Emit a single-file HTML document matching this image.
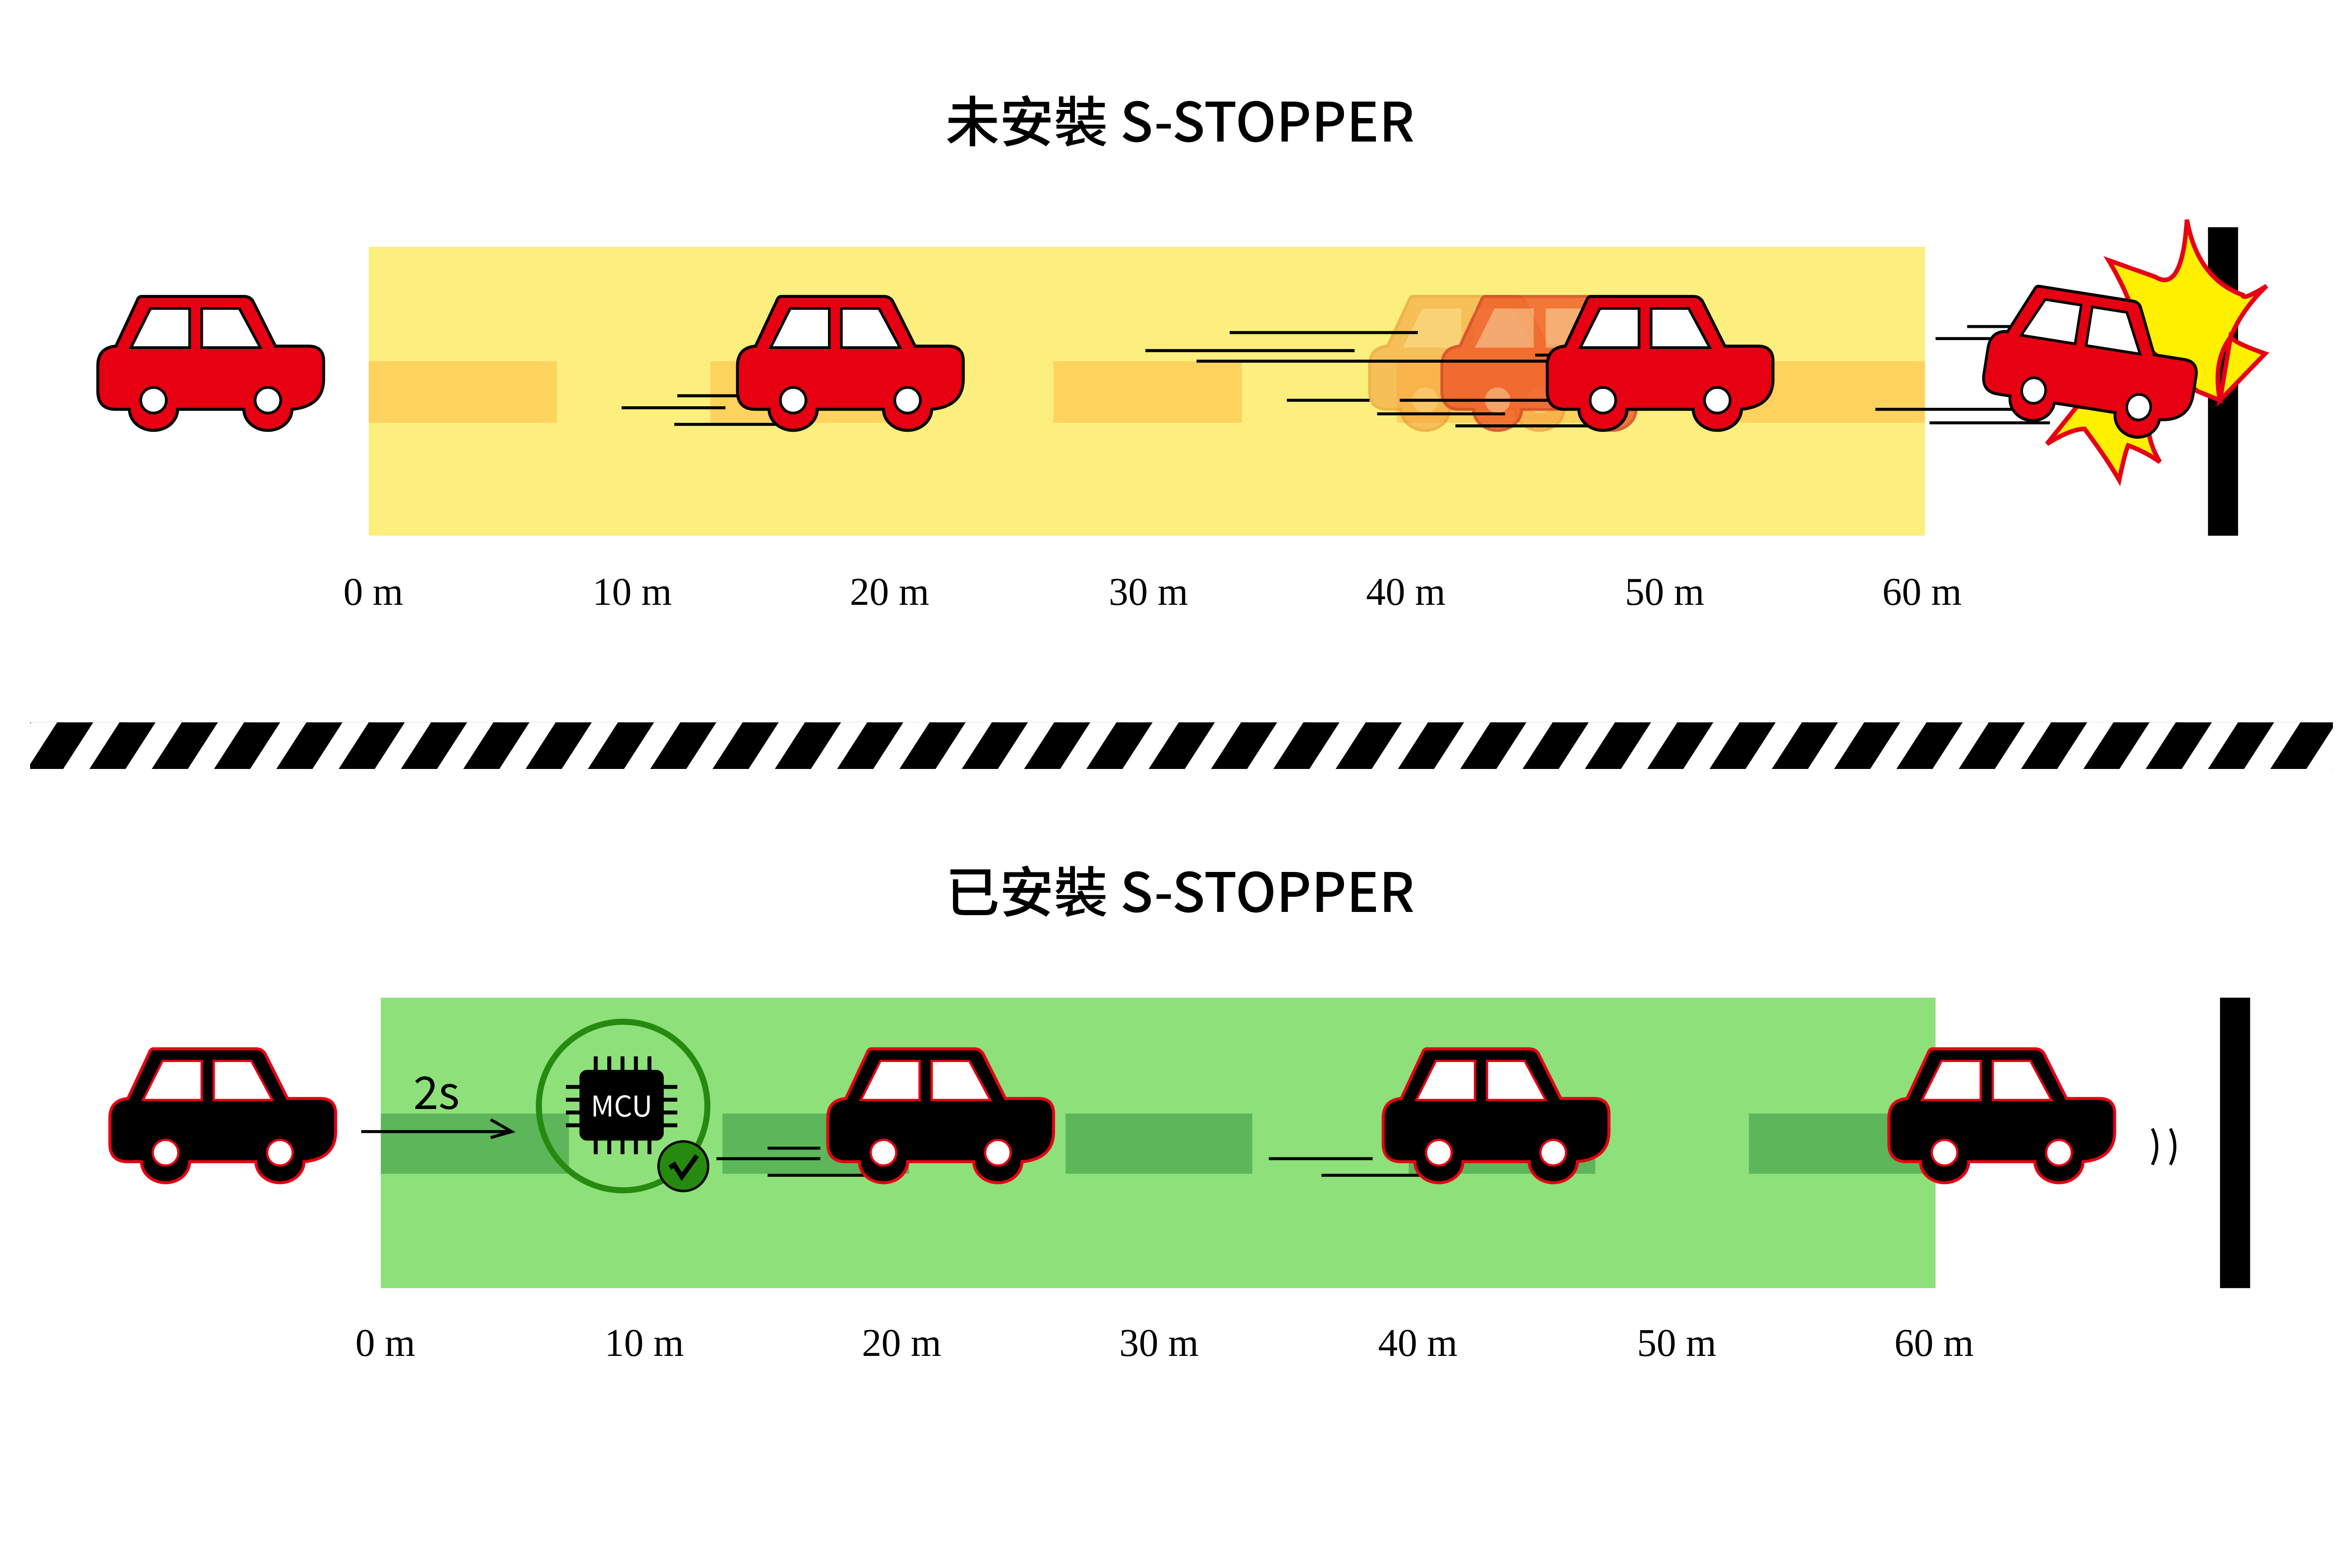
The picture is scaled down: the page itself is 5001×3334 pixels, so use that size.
<!DOCTYPE html>
<html><head><meta charset="utf-8"><style>
html,body{margin:0;padding:0;background:#fff;}
svg{display:block;}
</style></head><body>
<svg width="5001" height="3334" viewBox="0 0 1563 1042" xmlns="http://www.w3.org/2000/svg">
<defs>
<path id="car" d="M29,0 L97,0 Q101,0 103,3 L118,33 L140,33 Q150,33 150,43 L150,55 Q150,73 129,75 A16,14 0 0 1 97,75 L53,75 A16,14 0 0 1 21,75 L12,75 Q0,75 0,63 L0,46 Q0,34 12,33 L26,3 Q27,0 29,0 Z"/>
<g id="holes">
<polygon points="22,34 35,8 61,8 61,34"/>
<polygon points="69,8 94,8 108,34 69,34"/>
<ellipse cx="37" cy="69" rx="8.5" ry="8.5"/>
<ellipse cx="113" cy="69" rx="8.5" ry="8.5"/>
</g>
<g id="redcar">
<use href="#car" fill="#e60012" stroke="#000" stroke-width="2"/>
<use href="#holes" fill="#fff" stroke="#000" stroke-width="1.8"/>
</g>
<g id="blackcar">
<use href="#car" fill="#000" stroke="#e60012" stroke-width="2"/>
<use href="#holes" fill="#fff" stroke="#e60012" stroke-width="1.5"/>
</g>
<pattern id="haz" patternUnits="userSpaceOnUse" x="18" y="480" width="41.4" height="31">
<polygon points="20,0 44,0 24,31 0,31" fill="#000"/>
<polygon points="-21.4,0 2.6,0 -17.4,31 -41.4,31" fill="#000"/>
</pattern>
</defs>

<text x="784" y="94" text-anchor="middle" font-family="'Noto Sans CJK TC','Liberation Sans',sans-serif" font-weight="500" font-size="36" fill="#000">未安裝 S-STOPPER</text>

<rect x="245" y="164" width="1034" height="192" fill="#fcef7e"/>
<g fill="#fdd35e">
<rect x="245" y="240" width="125" height="41"/>
<rect x="472" y="240" width="125" height="41"/>
<rect x="700" y="240" width="125" height="41"/>
<rect x="928" y="240" width="125" height="41"/>
<rect x="1156" y="240" width="123" height="41"/>
</g>
<g font-family="'Liberation Serif',serif" font-size="26" fill="#000" text-anchor="middle">
<text x="248" y="402">0 m</text><text x="420" y="402">10 m</text><text x="591" y="402">20 m</text>
<text x="763" y="402">30 m</text><text x="934" y="402">40 m</text><text x="1106" y="402">50 m</text><text x="1277" y="402">60 m</text>
</g>
<rect x="1467" y="151" width="20" height="205" fill="#000"/>

<use href="#redcar" x="65" y="197"/>
<g stroke="#000" stroke-width="2">
<line x1="450" y1="263" x2="490" y2="263"/><line x1="413" y1="271" x2="482" y2="271"/><line x1="448" y1="282" x2="520" y2="282"/>
</g>
<use href="#redcar" x="490" y="197"/>
<g opacity="0.6"><use href="#car" x="910" y="197" fill="#f5a040" stroke="#e8902a" stroke-width="2"/><use href="#holes" x="910" y="197" fill="#f8c070"/></g>
<g opacity="0.8"><use href="#car" x="958" y="197" fill="#f05a28" stroke="#d04020" stroke-width="2"/><use href="#holes" x="958" y="197" fill="#f4a070"/></g>
<g stroke="#000" stroke-width="2">
<line x1="817" y1="221" x2="942" y2="221"/><line x1="761" y1="233" x2="900" y2="233"/><line x1="795" y1="240" x2="1030" y2="240"/>
<line x1="1020" y1="236" x2="1077" y2="236"/><line x1="855" y1="266" x2="910" y2="266"/><line x1="930" y1="266" x2="1070" y2="266"/>
<line x1="915" y1="275" x2="1000" y2="275"/><line x1="967" y1="283" x2="1060" y2="283"/>
</g>
<use href="#redcar" x="1028" y="197"/>

<g stroke="#000" stroke-width="2">
<line x1="1307" y1="217" x2="1345" y2="217"/><line x1="1286" y1="225" x2="1326" y2="225"/>
<line x1="1246" y1="272" x2="1342" y2="272"/><line x1="1282" y1="281" x2="1362" y2="281"/>
</g>
<path d="M1453,146 Q1450,195 1432,184 Q1415,178 1401,173 Q1420,205 1420,225 L1460,260 L1475,266 Q1470,240 1482,224 Q1490,205 1506,190 Q1490,200 1490,196 Q1460,185 1453,146 Z" fill="#fff000" stroke="#e60012" stroke-width="3"/>
<path d="M1505,235 Q1485,228 1482,224 L1475,266 Z" fill="#fff000" stroke="#e60012" stroke-width="3"/>
<path d="M1360,295 Q1376,285 1385,285 Q1400,305 1408,319 Q1412,300 1414,296 Q1425,300 1435,307 Q1425,290 1428,275 L1380,270 Z" fill="#fff000" stroke="#e60012" stroke-width="3"/>
<g transform="translate(1328,186) rotate(9) scale(0.93,1)"><use href="#redcar"/></g>

<rect x="20" y="480" width="1530" height="31" fill="url(#haz)"/>

<text x="784" y="606" text-anchor="middle" font-family="'Noto Sans CJK TC','Liberation Sans',sans-serif" font-weight="500" font-size="36" fill="#000">已安裝 S-STOPPER</text>

<rect x="253" y="663" width="1033" height="193" fill="#8ee07a"/>
<g fill="#5db65a">
<rect x="253" y="740" width="125" height="40"/>
<rect x="480" y="740" width="124" height="40"/>
<rect x="708" y="740" width="124" height="40"/>
<rect x="936" y="740" width="124" height="40"/>
<rect x="1162" y="740" width="124" height="40"/>
</g>
<g font-family="'Liberation Serif',serif" font-size="26" fill="#000" text-anchor="middle">
<text x="256" y="901">0 m</text><text x="428" y="901">10 m</text><text x="599" y="901">20 m</text>
<text x="770" y="901">30 m</text><text x="942" y="901">40 m</text><text x="1114" y="901">50 m</text><text x="1285" y="901">60 m</text>
</g>
<rect x="1475" y="663" width="20" height="193" fill="#000"/>

<use href="#blackcar" x="73" y="697"/>
<text x="290" y="737" text-anchor="middle" font-family="'Noto Sans CJK TC','Liberation Sans',sans-serif" font-size="30" fill="#000">2s</text>
<line x1="240" y1="752" x2="338" y2="752" stroke="#000" stroke-width="2"/>
<polyline points="326,744 340,752 326,756" fill="none" stroke="#000" stroke-width="2"/>

<circle cx="414" cy="735" r="56" fill="none" stroke="#268a10" stroke-width="4"/>
<g fill="#000">
<rect x="385" y="711" width="56" height="47" rx="5"/>
<rect x="394.5" y="702" width="2.6" height="10"/><rect x="403.5" y="702" width="2.6" height="10"/><rect x="412.3" y="702" width="2.6" height="10"/><rect x="421.2" y="702" width="2.6" height="10"/><rect x="430.2" y="702" width="2.6" height="10"/>
<rect x="394.5" y="757" width="2.6" height="10"/><rect x="403.5" y="757" width="2.6" height="10"/><rect x="412.3" y="757" width="2.6" height="10"/><rect x="421.2" y="757" width="2.6" height="10"/><rect x="430.2" y="757" width="2.6" height="10"/>
<rect x="376" y="721" width="10" height="2.6"/><rect x="376" y="729.5" width="10" height="2.6"/><rect x="376" y="738" width="10" height="2.6"/><rect x="376" y="746.5" width="10" height="2.6"/>
<rect x="440" y="721" width="10" height="2.6"/><rect x="440" y="729.5" width="10" height="2.6"/><rect x="440" y="738" width="10" height="2.6"/><rect x="440" y="746.5" width="10" height="2.6"/>
</g>
<text x="413" y="742" text-anchor="middle" font-family="'Noto Sans CJK TC','Liberation Sans',sans-serif" font-size="19" fill="#fff">MCU</text>
<circle cx="454" cy="775" r="16.5" fill="#268a10" stroke="#000" stroke-width="1.6"/>
<polyline points="445,776 448,774 453,782 463,768" fill="none" stroke="#000" stroke-width="3.2"/>

<g stroke="#000" stroke-width="2">
<line x1="476" y1="770" x2="545" y2="770"/><line x1="510" y1="763" x2="545" y2="763"/><line x1="510" y1="781" x2="590" y2="781"/>
<line x1="843" y1="770" x2="912" y2="770"/><line x1="878" y1="781" x2="952" y2="781"/>
</g>
<use href="#blackcar" x="550" y="697"/>
<use href="#blackcar" x="919" y="697"/>
<use href="#blackcar" x="1255" y="697"/>
<g fill="none" stroke="#000" stroke-width="2">
<path d="M1430,750 Q1436,762 1430,774"/>
<path d="M1442,750 Q1448,762 1442,774"/>
</g>
</svg>
</body></html>
